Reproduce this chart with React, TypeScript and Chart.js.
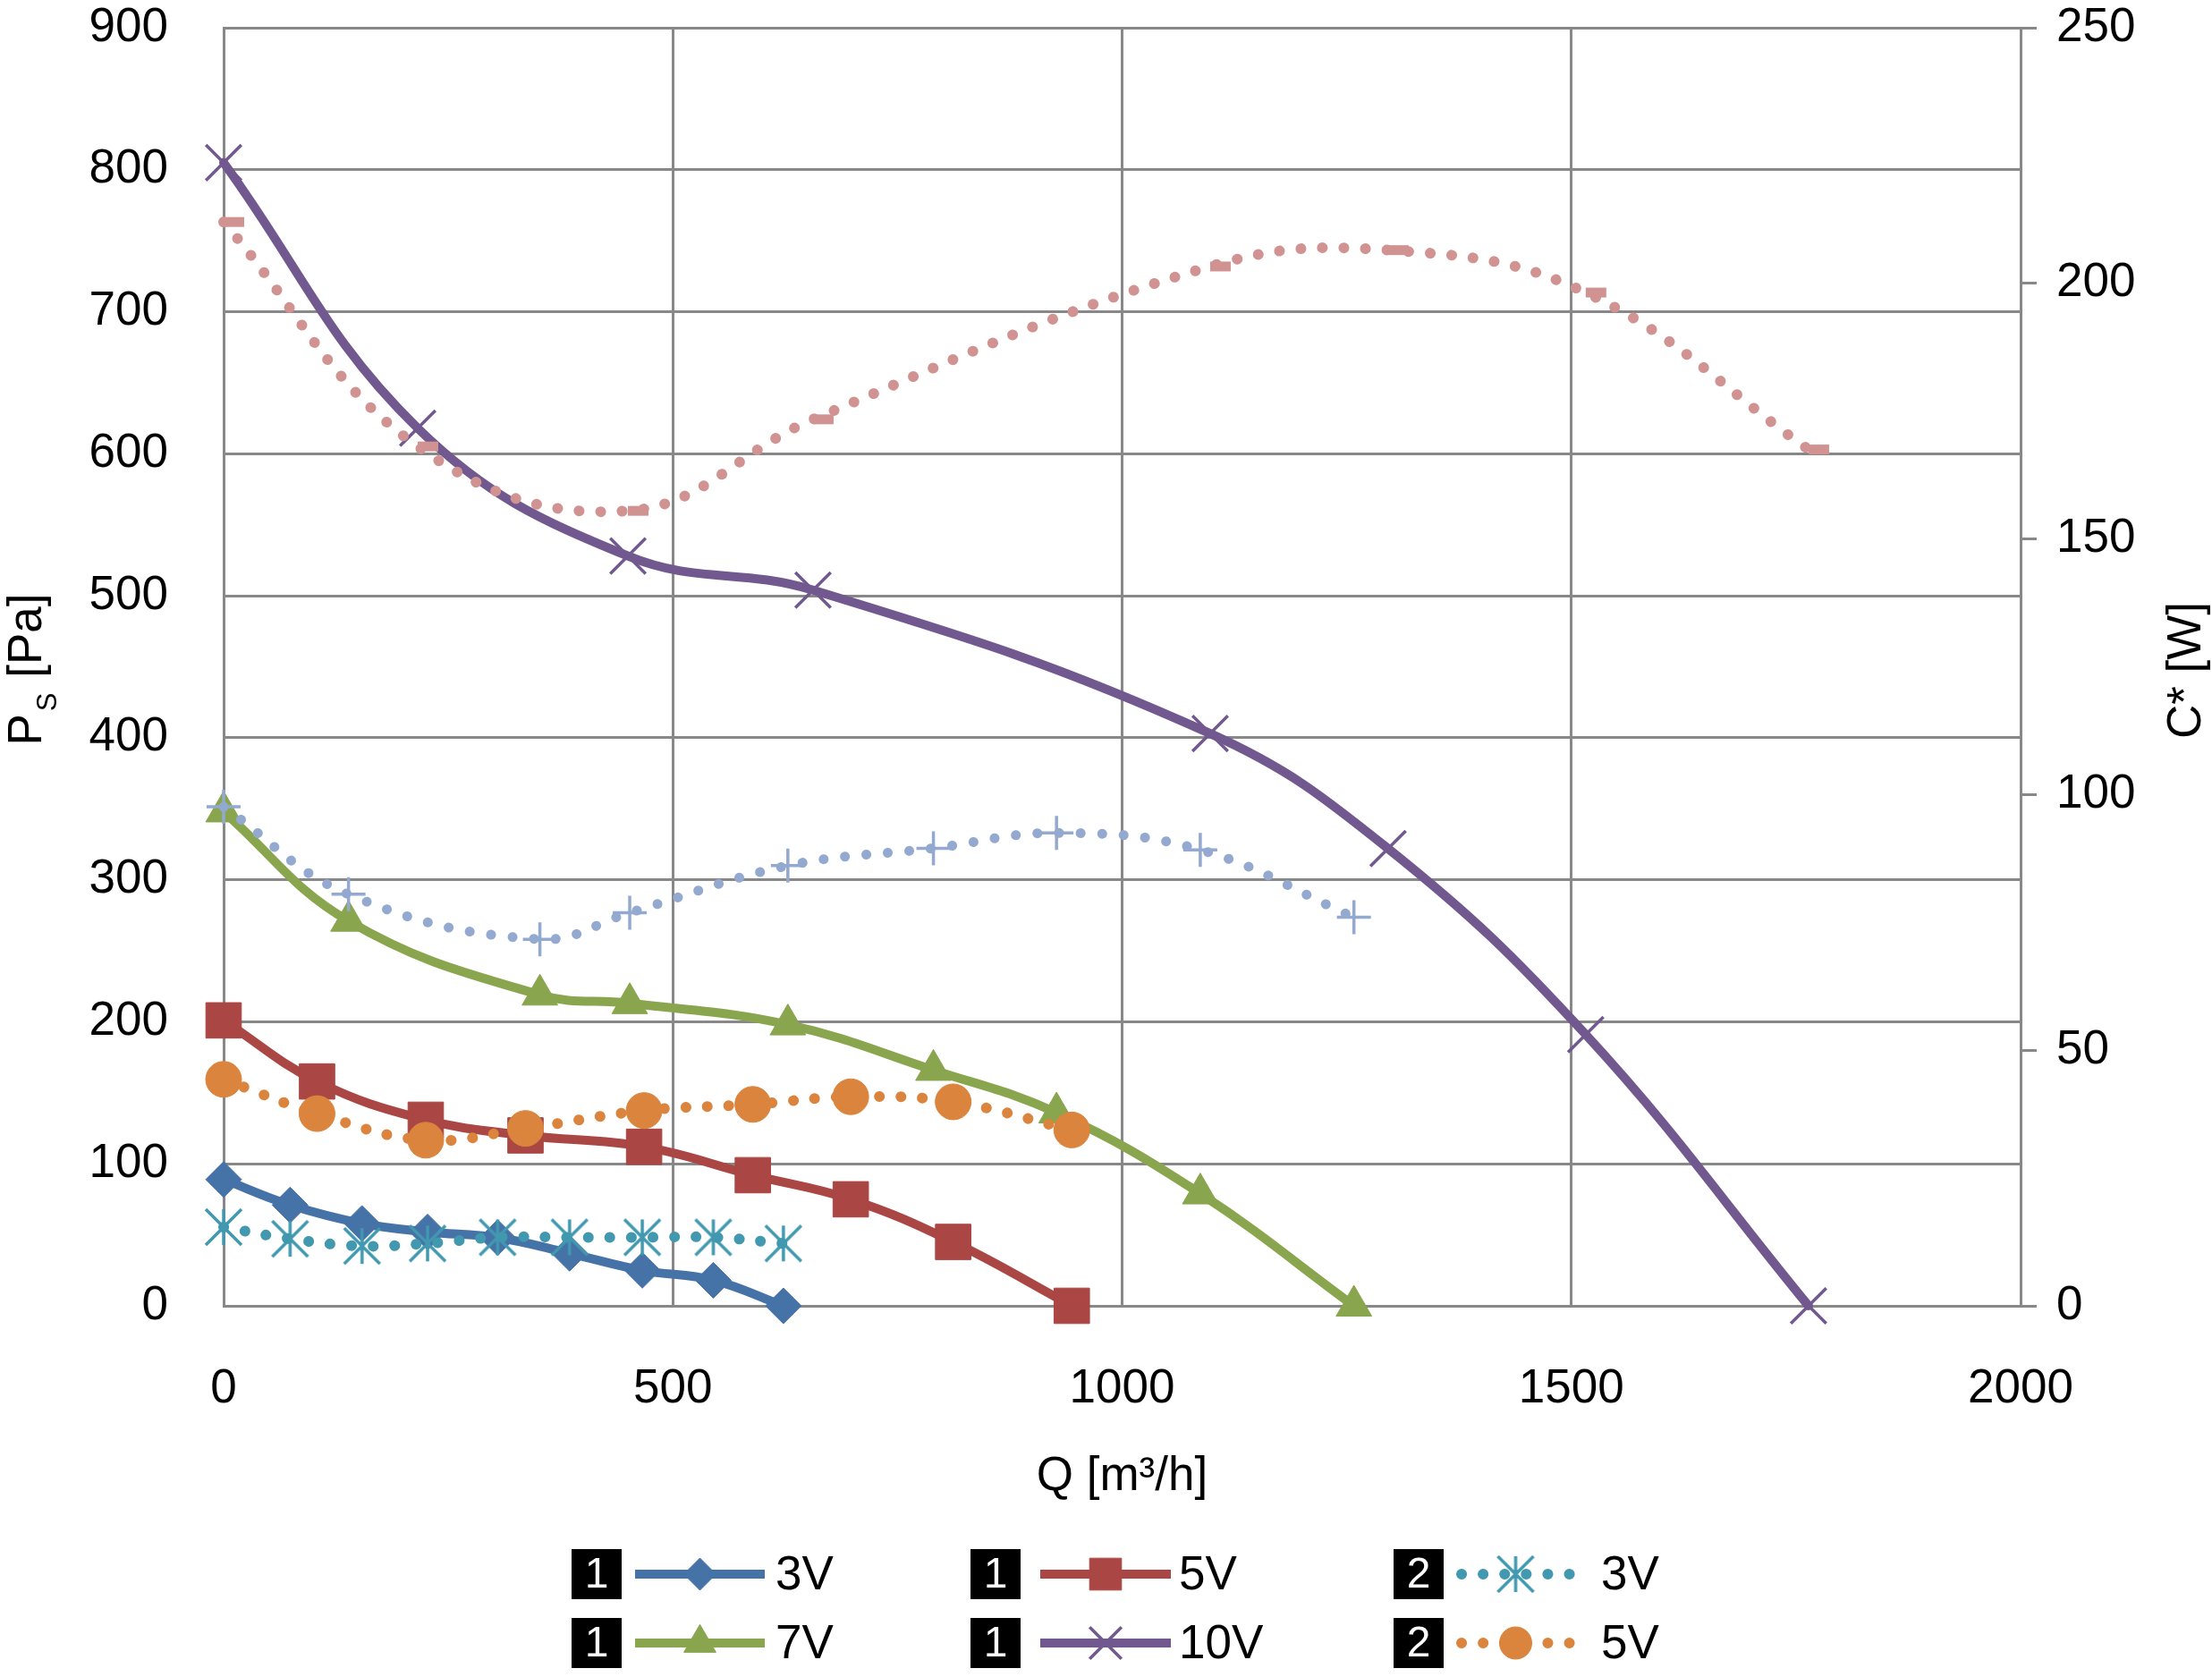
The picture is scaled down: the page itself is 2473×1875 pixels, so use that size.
import React, { useEffect, useRef } from 'react';
import { Chart, registerables } from 'chart.js';

Chart.register(...registerables);

// ---------- data ----------
const Q_3V = [0, 74, 154, 227, 305, 385, 466, 545, 623];
const PS_3V = [89, 71, 58, 52, 48, 37, 25, 18, 0];
const C_3V = [15.4, 13.1, 11.7, 12.2, 13.4, 13.4, 13.4, 13.4, 12.2];

const Q_5V = [0, 104, 225, 336, 468, 589, 698, 812, 944];
const PS_5V = [201, 158, 131, 120, 112, 92, 75, 45, 0];
const C_5V = [44.3, 37.6, 32.4, 34.7, 38.2, 39.4, 40.9, 39.9, 34.4];

const Q_7V = [0, 139, 352, 452, 628, 790, 927, 1087, 1258];
const PS_7V = [348, 271, 219, 213, 198, 166, 136, 79, 0];
const C_7V = [97.6, 80.5, 71.7, 76.9, 86.1, 89.5, 92.5, 89.2, 76.0];

const Q_10V = [0, 216, 450, 656, 1098, 1296, 1516, 1764];
const PS_10V = [805, 618, 528, 504, 403, 322, 191, 0];
const C_10V = [212.0, 168.1, 155.5, 173.4, 203.3, 206.5, 198.2, 167.5];

const SERIES_LABELS = ['3V', '5V', '7V', '10V'];
const LEGEND_TAGS = ['1', '1', '2', '1', '1', '2'];
const LEGEND_LABELS = ['3V', '5V', '3V', '7V', '10V', '5V'];

const X_TITLE = 'Q [m³/h]';
const Y_TITLE_MAIN = 'P';
const Y_TITLE_SUB = 'S';
const Y_TITLE_UNIT = ' [Pa]';
const Y1_TITLE = 'C* [W]';

// ---------- styles ----------
const BLUE = '#4572A7';
const RED = '#AA4643';
const GREEN = '#89A54E';
const PURPLE = '#71588F';
const TEAL = '#4198AF';
const ORANGE = '#DB843D';
const LIGHTBLUE = '#93A9CF';
const PINK = '#D19392';
const GRID = '#888888';
const FONT = "'Liberation Sans', Arial, Helvetica, sans-serif";
const FS = 53;

function makeAsterisk(color: string, size: number, lw: number) {
  const c = document.createElement('canvas');
  c.width = size;
  c.height = size;
  const g = c.getContext('2d')!;
  g.strokeStyle = color;
  g.lineWidth = lw;
  const m = size / 2;
  const a = size / 2 - 2;
  g.beginPath();
  g.moveTo(m, m - a);
  g.lineTo(m, m + a);
  g.moveTo(m - a, m - a);
  g.lineTo(m + a, m + a);
  g.moveTo(m + a, m - a);
  g.lineTo(m - a, m + a);
  g.stroke();
  return c;
}

function drawMarker(ctx: CanvasRenderingContext2D, ds: any, x: number, y: number, k: number) {
  const style = ds.pointStyle;
  const r = ds.pointRadius * k;
  ctx.save();
  if (style instanceof HTMLCanvasElement) {
    ctx.drawImage(style, x - style.width / 2, y - style.height / 2);
    ctx.restore();
    return;
  }
  ctx.fillStyle = ds.pointBackgroundColor;
  ctx.strokeStyle = ds.pointBorderColor;
  ctx.lineWidth = ds.pointBorderWidth;
  ctx.beginPath();
  let fill = true;
  if (style === 'circle') {
    ctx.arc(x, y, r, 0, Math.PI * 2);
  } else if (style === 'rect') {
    const s = r * Math.SQRT1_2;
    ctx.rect(x - s, y - s, 2 * s, 2 * s);
  } else if (style === 'rectRot') {
    ctx.moveTo(x - r, y);
    ctx.lineTo(x, y - r);
    ctx.lineTo(x + r, y);
    ctx.lineTo(x, y + r);
    ctx.closePath();
  } else if (style === 'triangle') {
    ctx.moveTo(x, y - r);
    ctx.lineTo(x + 0.866 * r, y + 0.5 * r);
    ctx.lineTo(x - 0.866 * r, y + 0.5 * r);
    ctx.closePath();
  } else if (style === 'crossRot') {
    const d = r * Math.SQRT1_2;
    ctx.moveTo(x - d, y - d);
    ctx.lineTo(x + d, y + d);
    ctx.moveTo(x + d, y - d);
    ctx.lineTo(x - d, y + d);
    fill = false;
  }
  if (fill) ctx.fill();
  ctx.stroke();
  ctx.restore();
}

function drawRotatedPieces(
  ctx: CanvasRenderingContext2D,
  pieces: { t: string; size: number; dy: number; gap: number }[],
  xBase: number,
  cy: number
) {
  let total = 0;
  const widths = pieces.map((p) => {
    ctx.font = `${p.size}px ${FONT}`;
    const w = ctx.measureText(p.t).width;
    total += w + p.gap;
    return w;
  });
  ctx.save();
  ctx.translate(xBase, cy + total / 2);
  ctx.rotate(-Math.PI / 2);
  ctx.fillStyle = '#000';
  ctx.textBaseline = 'alphabetic';
  ctx.textAlign = 'left';
  let x = 0;
  pieces.forEach((p, i) => {
    x += p.gap;
    ctx.font = `${p.size}px ${FONT}`;
    ctx.fillText(p.t, x, p.dy);
    x += widths[i];
  });
  ctx.restore();
}

export default function App() {
  const ref = useRef<HTMLCanvasElement>(null);

  useEffect(() => {
    document.body.style.margin = '0';
    document.body.style.overflow = 'hidden';
    const canvas = ref.current!;
    const asterisk = makeAsterisk(TEAL, 44, 3.5);

    const pts = (xs: number[], ys: number[]) => xs.map((x, i) => ({ x, y: ys[i] }));

    const solid = (label: string, color: string, xs: number[], ys: number[], style: any, r: number, pbw = 1) => ({
      label,
      data: pts(xs, ys),
      yAxisID: 'y',
      borderColor: color,
      backgroundColor: color,
      borderWidth: 10,
      tension: 0.4,
      fill: false,
      clip: false,
      pointStyle: style,
      pointRadius: r,
      pointHoverRadius: r,
      pointBackgroundColor: color,
      pointBorderColor: color,
      pointBorderWidth: pbw,
      borderCapStyle: 'round',
      borderJoinStyle: 'round',
      order: 1,
    });

    const dotted = (label: string, color: string, xs: number[], ys: number[], style: any, r: number, pbw = 1, dotW = 12) => ({
      label,
      data: pts(xs, ys),
      yAxisID: 'y1',
      borderColor: color,
      backgroundColor: color,
      borderWidth: dotW,
      borderDash: [0.1, 24],
      borderCapStyle: 'round',
      tension: 0.4,
      fill: false,
      clip: false,
      pointStyle: style,
      pointRadius: r,
      pointHoverRadius: r,
      pointBackgroundColor: color,
      pointBorderColor: color,
      pointBorderWidth: pbw,
      order: 0,
    });

    const datasets: any[] = [
      solid(SERIES_LABELS[0], BLUE, Q_3V, PS_3V, 'rectRot', 20),
      solid(SERIES_LABELS[1], RED, Q_5V, PS_5V, 'rect', 28),
      solid(SERIES_LABELS[2], GREEN, Q_7V, PS_7V, 'triangle', 23),
      solid(SERIES_LABELS[3], PURPLE, Q_10V, PS_10V, 'crossRot', 28, 3.5),
      dotted(SERIES_LABELS[0], TEAL, Q_3V, C_3V, asterisk, 20),
      dotted(SERIES_LABELS[1], ORANGE, Q_5V, C_5V, 'circle', 20),
      dotted(SERIES_LABELS[2], LIGHTBLUE, Q_7V, C_7V, 'cross', 19, 3.5, 11),
      dotted(SERIES_LABELS[3], PINK, Q_10V, C_10V, 'dash', 23, 11),
    ];

    const legendOrder = [0, 1, 4, 2, 3, 5];

    const titlesAndLegend = {
      id: 'titlesAndLegend',
      afterDraw(chart: any) {
        const { ctx, chartArea } = chart;
        const cy = (chartArea.top + chartArea.bottom) / 2;
        // left axis title with subscript
        drawRotatedPieces(
          ctx,
          [
            { t: Y_TITLE_MAIN, size: FS, dy: 0, gap: 0 },
            { t: Y_TITLE_SUB, size: 31, dy: 17, gap: 3 },
            { t: Y_TITLE_UNIT, size: FS, dy: 0, gap: 2 },
          ],
          46,
          cy + 3
        );
        // right axis title (reads bottom to top)
        drawRotatedPieces(ctx, [{ t: Y1_TITLE, size: FS, dy: 0, gap: 0 }], 2460, cy + 4);

        // legend
        const cols = [
          { x: 639, l0: 710, l1: 855, t: 867 },
          { x: 1085, l0: 1163, l1: 1309, t: 1318 },
          { x: 1558, l0: 1628, l1: 1761, t: 1790 },
        ];
        const rows = [1760, 1837];
        legendOrder.forEach((dsIndex, i) => {
          const ds = chart.data.datasets[dsIndex];
          const col = cols[i % 3];
          const y = rows[Math.floor(i / 3)];
          ctx.save();
          ctx.fillStyle = '#000';
          ctx.fillRect(col.x, y - 28, 56, 56);
          ctx.fillStyle = '#fff';
          ctx.font = `48px ${FONT}`;
          ctx.textAlign = 'center';
          ctx.textBaseline = 'middle';
          ctx.fillText(LEGEND_TAGS[i], col.x + 28, y + 2);
          // line sample
          ctx.strokeStyle = ds.borderColor;
          ctx.lineWidth = ds.borderWidth;
          ctx.beginPath();
          if (ds.borderDash) {
            ctx.setLineDash(ds.borderDash);
            ctx.lineCap = 'round';
            ctx.moveTo(col.l0 + 6, y);
          } else {
            ctx.lineCap = 'butt';
            ctx.moveTo(col.l0, y);
          }
          ctx.lineTo(col.l1, y);
          ctx.stroke();
          ctx.setLineDash([]);
          ctx.restore();
          drawMarker(ctx, ds, (col.l0 + col.l1) / 2, y, 0.9);
          ctx.save();
          ctx.fillStyle = '#000';
          ctx.font = `${FS}px ${FONT}`;
          ctx.textAlign = 'left';
          ctx.textBaseline = 'middle';
          ctx.fillText(LEGEND_LABELS[i], col.t, y + 2);
          ctx.restore();
        });
      },
    };

    const plain = (v: any) => String(v);
    const fixVertical = (w: number) => (s: any) => {
      s.width = w;
      s.paddingTop = 31;
      s.paddingBottom = 0;
    };

    const chart = new Chart(canvas, {
      type: 'line',
      data: { datasets },
      options: {
        animation: false,
        responsive: false,
        maintainAspectRatio: false,
        layout: { padding: 0, autoPadding: false },
        font: { family: FONT, size: FS },
        plugins: {
          legend: { display: false },
          tooltip: { enabled: false },
          title: { display: false },
        },
        scales: {
          x: {
            type: 'linear',
            min: 0,
            max: 2000,
            ticks: { stepSize: 500, padding: 62, color: '#000', font: { family: FONT, size: FS }, callback: plain },
            grid: { color: GRID, lineWidth: 3, drawTicks: false },
            border: { color: GRID, width: 3 },
            title: {
              display: true,
              text: X_TITLE,
              color: '#000',
              font: { family: FONT, size: FS, lineHeight: 1.2 },
              padding: { top: 0, bottom: 192 },
            },
            afterFit: (s: any) => {
              s.height = 415;
            },
          },
          y: {
            type: 'linear',
            position: 'left',
            min: 0,
            max: 900,
            ticks: { stepSize: 100, padding: 62, color: '#000', font: { family: FONT, size: FS }, callback: plain },
            grid: { color: GRID, lineWidth: 3, drawTicks: false },
            border: { color: GRID, width: 3 },
            afterFit: fixVertical(250),
          },
          y1: {
            type: 'linear',
            position: 'right',
            min: 0,
            max: 250,
            ticks: { stepSize: 50, padding: 22, color: '#000', font: { family: FONT, size: FS }, callback: plain },
            grid: { drawOnChartArea: false, color: GRID, lineWidth: 3, tickLength: 18, tickWidth: 3 },
            border: { color: GRID, width: 3 },
            afterFit: fixVertical(214),
          },
        },
      } as any,
      plugins: [titlesAndLegend],
    });

    return () => chart.destroy();
  }, []);

  return (
    <div style={{ width: 2473, height: 1875, background: '#fff' }}>
      <canvas ref={ref} width={2473} height={1875} style={{ display: 'block', width: 2473, height: 1875 }} />
    </div>
  );
}
